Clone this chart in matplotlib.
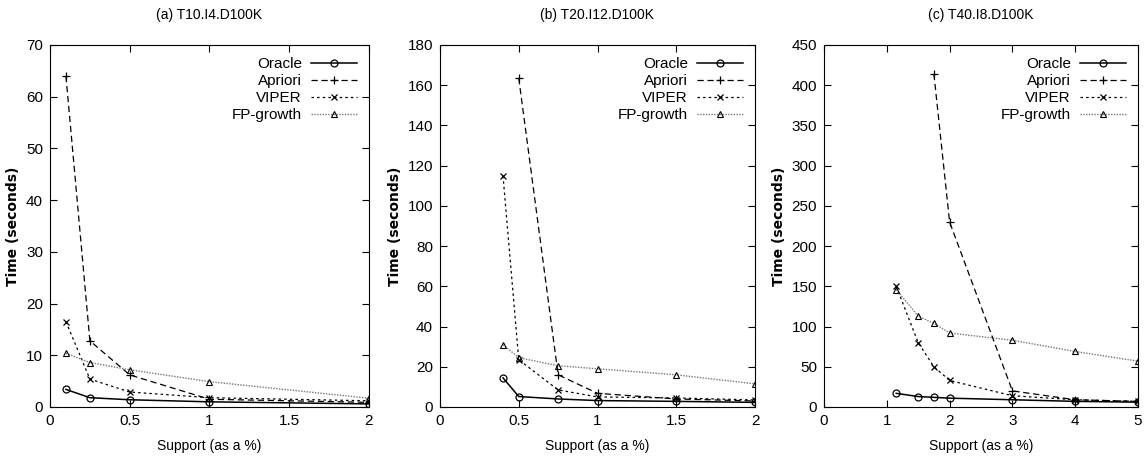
import matplotlib.pyplot as plt

plt.rcParams['font.family'] = ['Liberation Sans', 'DejaVu Sans']

# (a) T10.I4.D100K
a_x = [0.1, 0.25, 0.5, 1, 2]
a_oracle = [3.4, 1.8, 1.4, 1.0, 0.6]
a_apriori = [64, 12.8, 6.2, 1.5, 0.9]
a_viper = [16.5, 5.4, 2.9, 1.8, 1.2]
a_fp = [10.4, 8.6, 7.2, 4.9, 1.7]

# (b) T20.I12.D100K
b_x = [0.4, 0.5, 0.75, 1, 1.5, 2]
b_oracle = [14.5, 5.2, 4.0, 3.2, 2.8, 2.3]
b_apriori_x = [0.5, 0.75, 1, 1.5, 2]
b_apriori = [163.5, 16, 6.8, 4, 3]
b_viper = [115, 23.5, 8.5, 5, 4.5, 3.5]
b_fp = [31, 24.5, 20.5, 19, 16, 11.5]

# (c) T40.I8.D100K
c_x = [1.15, 1.5, 1.75, 2, 3, 4, 5]
c_oracle = [17, 13, 12, 11, 9, 7, 6]
c_apriori_x = [1.75, 2, 3, 4, 5]
c_apriori = [414, 230, 20, 9, 7]
c_viper = [150, 80, 50, 33, 14, 9, 7]
c_fp = [146, 113, 104, 92, 83, 69, 57]

titles = ["(a) T10.I4.D100K", "(b) T20.I12.D100K", "(c) T40.I8.D100K"]

panels = [
    (a_x, a_oracle, a_x, a_apriori, a_viper, a_fp, 70, 10, 2, 0.5),
    (b_x, b_oracle, b_apriori_x, b_apriori, b_viper, b_fp, 180, 20, 2, 0.5),
    (c_x, c_oracle, c_apriori_x, c_apriori, c_viper, c_fp, 450, 50, 5, 1),
]

fig = plt.figure(figsize=(11.45, 4.7), dpi=100)
lefts = [50, 440, 824]
widths = [319, 315, 314]

for i, (x, orc, ax_x, apr, vip, fp, ymax, ystep, xmax, xstep) in enumerate(panels):
    ax = fig.add_axes([lefts[i] / 1145, 1 - 407 / 470, widths[i] / 1145, 362 / 470])
    ax.plot(x, orc, color='black', lw=1.1, marker='o', ms=5, mfc='none', mew=0.9, label='Oracle')
    ax.plot(ax_x, apr, color='black', lw=0.9, ls=(0, (5, 3)), marker='+', ms=6, mew=0.9, label='Apriori')
    ax.plot(x, vip, color='black', lw=0.9, ls=(0, (2, 2.5)), marker='x', ms=5, mew=0.9, label='VIPER')
    ax.plot(x, fp, color='#777777', lw=1.0, ls=(0, (1, 1)), marker='^', ms=5, mfc='none', mec='black', mew=0.8,
            label='FP-growth')
    ax.set_xlim(0, xmax)
    ax.set_ylim(0, ymax)
    xt = [k * xstep for k in range(int(round(xmax / xstep)) + 1)]
    ax.set_xticks(xt)
    ax.set_xticklabels(['%g' % v for v in xt])
    ax.set_yticks(range(0, ymax + 1, ystep))
    ax.tick_params(direction='in', top=True, right=True, length=5, labelsize=11, pad=5)
    ax.set_title(titles[i], fontsize=10, pad=19)
    ax.set_xlabel('Support (as a %)', fontsize=10, labelpad=8)
    ax.set_ylabel('Time (seconds)', fontsize=10, fontfamily='DejaVu Sans', fontweight='bold', labelpad=4)
    for s in ax.spines.values():
        s.set_linewidth(0.8)
    ax.legend(loc='upper right', frameon=False, markerfirst=False, fontsize=11,
              handlelength=3.0, labelspacing=0.2, borderaxespad=0.4, handletextpad=0.6)

fig.savefig('out.png', dpi=100)
